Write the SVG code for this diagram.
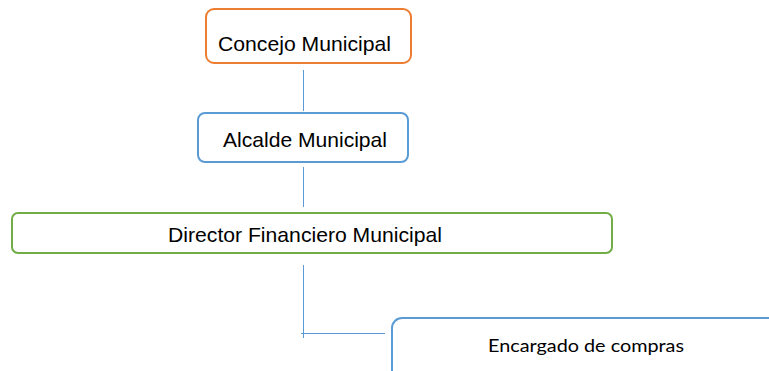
<svg xmlns="http://www.w3.org/2000/svg" width="769" height="371" viewBox="0 0 769 371">
<style>
.box{fill:#fff;stroke-width:2}
.t{font-family:"Liberation Sans",Arial,sans-serif;font-size:21px;fill:#000}
.t2{font-family:Lato,"Liberation Sans",sans-serif;font-size:18px;fill:#000}
.c{stroke:#5B9BD5;stroke-width:1;fill:none}
</style>
<rect width="769" height="371" fill="#fff"/>
<g id="connectors">
<line class="c" x1="303.5" y1="70" x2="303.5" y2="111"/>
<line class="c" x1="303.5" y1="167" x2="303.5" y2="207"/>
<line class="c" x1="303.5" y1="265" x2="303.5" y2="338" stroke="#7FAEDD"/>
<line class="c" x1="301" y1="333.5" x2="385" y2="333.5" stroke="#8DB8E2"/>
</g>
<g id="concejo">
<rect class="box" x="206" y="9" width="205" height="54" rx="8" stroke="#ED7D31"/>
<text class="t" x="218" y="51" textLength="173" lengthAdjust="spacingAndGlyphs">Concejo Municipal</text>
</g>
<g id="alcalde">
<rect class="box" x="198" y="113" width="210" height="49" rx="7" stroke="#5B9BD5"/>
<text class="t" x="223" y="147" textLength="164" lengthAdjust="spacingAndGlyphs">Alcalde Municipal</text>
</g>
<g id="director">
<rect class="box" x="12" y="213" width="600" height="40" rx="6" stroke="#70AD47"/>
<text class="t" x="168" y="242" textLength="274" lengthAdjust="spacingAndGlyphs">Director Financiero Municipal</text>
</g>
<g id="encargado">
<rect class="box" x="392" y="318" width="400" height="70" rx="10" stroke="#5B9BD5"/>
<text class="t2" x="488" y="352" textLength="196" lengthAdjust="spacingAndGlyphs">Encargado de compras</text>
</g>
</svg>
